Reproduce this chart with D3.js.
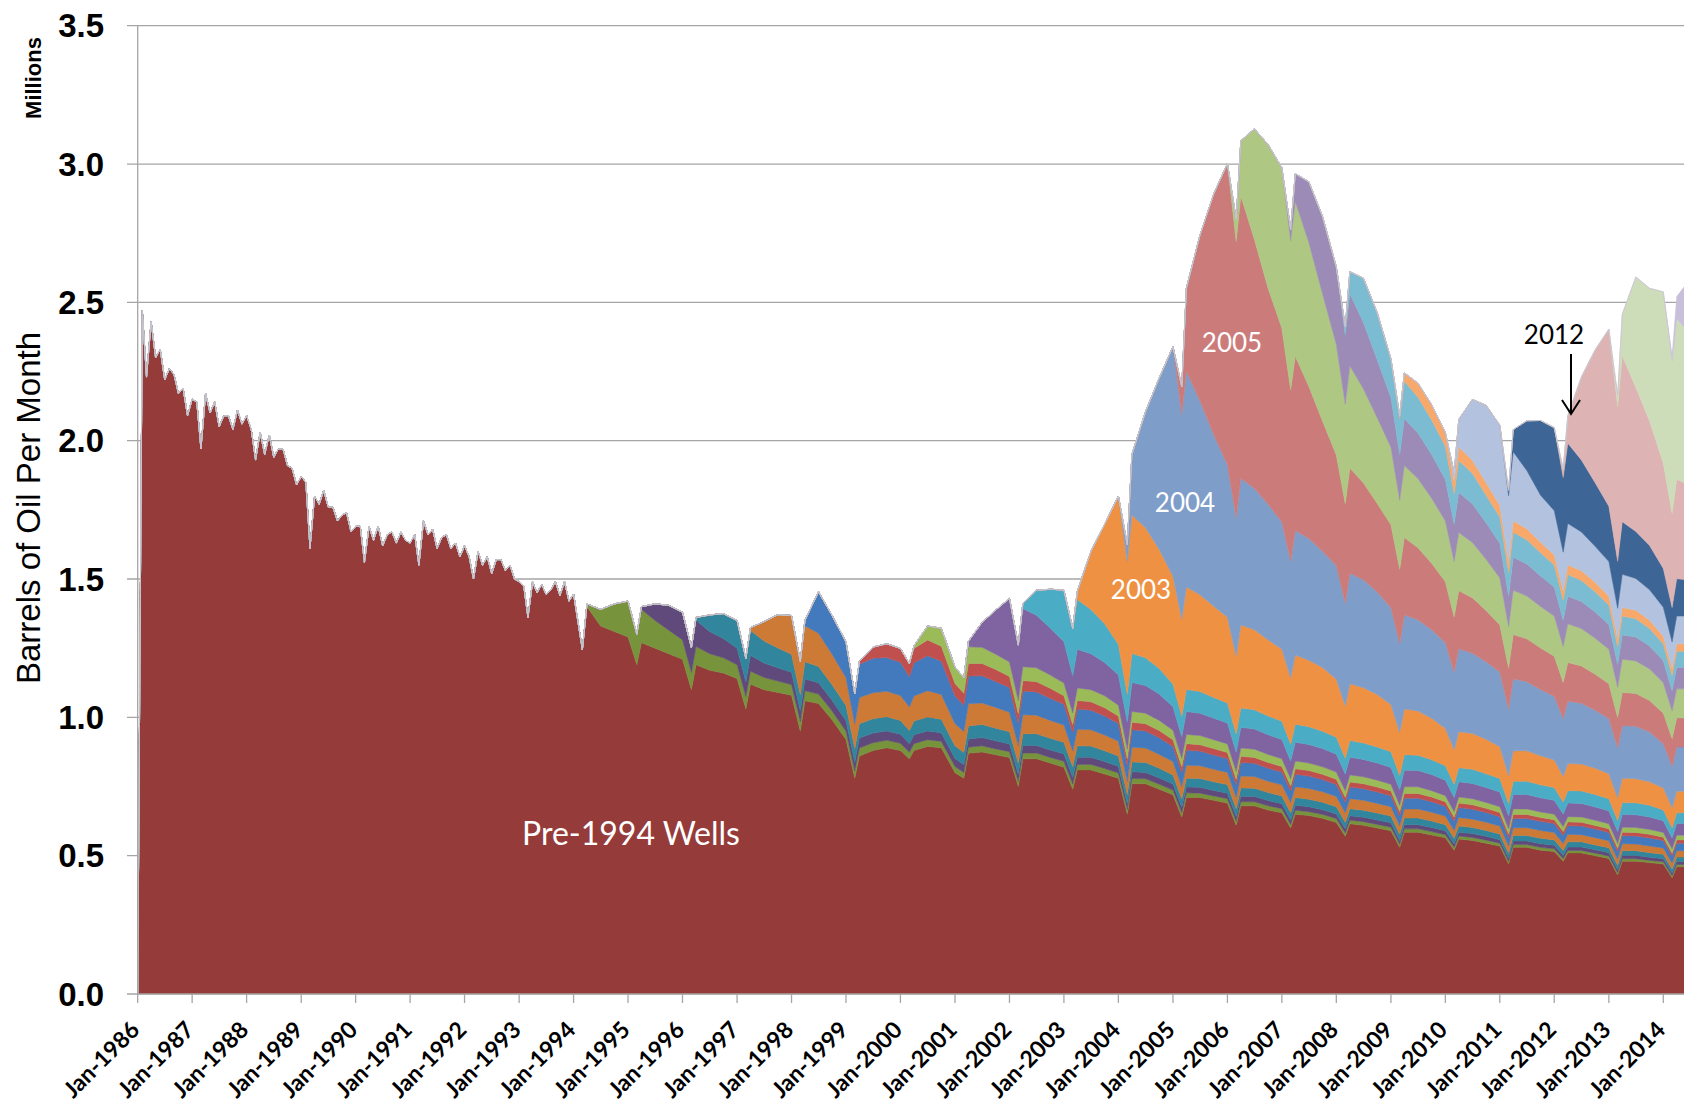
<!DOCTYPE html>
<html>
<head>
<meta charset="utf-8">
<script src="https://cdn.jsdelivr.net/npm/d3@7"></script>
<style>
html, body { margin: 0; padding: 0; background: #fff; }
svg { display: block; }
</style>
</head>
<body>
<svg id="chart" width="1684" height="1106"></svg>
<script>
// ---- data: monthly 1986-1993, then Jan/Mar/Apr/Jul/Oct samples ----
var monthlyYears = [1986, 1987, 1988, 1989, 1990, 1991, 1992, 1993];
var sampleMonths = [1, 3, 4, 7, 10];
var lastYearMonths = [1, 3, 4, 7];
var firstSampledYear = 1994, lastYear = 2014;

var yTicks = [0, 0.5, 1.0, 1.5, 2.0, 2.5, 3.0, 3.5];
var xTickLabels = ["Jan-1986","Jan-1987","Jan-1988","Jan-1989","Jan-1990","Jan-1991","Jan-1992",
  "Jan-1993","Jan-1994","Jan-1995","Jan-1996","Jan-1997","Jan-1998","Jan-1999","Jan-2000",
  "Jan-2001","Jan-2002","Jan-2003","Jan-2004","Jan-2005","Jan-2006","Jan-2007","Jan-2008",
  "Jan-2009","Jan-2010","Jan-2011","Jan-2012","Jan-2013","Jan-2014"];

var seriesNames = ["Pre-1994","1994","1995","1996","1997","1998","1999","2000","2001","2002",
  "2003","2004","2005","2006","2007","2008","2009","2010","2011","2012","2013","2014"];
var seriesColors = ["#953B39","#77933C","#604A7B","#31859C","#CC7A36","#4379BD","#C0504D","#9BBB59",
  "#8064A2","#4BACC6","#EE9142","#7F9DC9","#CB7B7A","#AEC783","#9C8AB7","#7BBCD2","#F7A86A",
  "#B3C3DF","#3D6596","#DDB3B3","#CEDDB9","#C8BFDB"];

// millions of barrels per month
var pre1994 = [
  0, 2.47, 2.23, 2.43, 2.30, 2.33, 2.22, 2.26, 2.24, 2.17, 2.19, 2.09,
  2.15, 2.14, 1.97, 2.17, 2.10, 2.14, 2.05, 2.09, 2.09, 2.04, 2.11, 2.06,
  2.09, 2.04, 1.93, 2.03, 1.95, 2.02, 1.94, 1.97, 1.97, 1.91, 1.90, 1.84,
  1.87, 1.85, 1.61, 1.80, 1.77, 1.82, 1.76, 1.76, 1.71, 1.73, 1.74, 1.67,
  1.69, 1.69, 1.56, 1.69, 1.64, 1.69, 1.62, 1.66, 1.67, 1.63, 1.67, 1.64,
  1.63, 1.66, 1.55, 1.71, 1.66, 1.68, 1.61, 1.65, 1.66, 1.61, 1.63, 1.58,
  1.62, 1.58, 1.50, 1.60, 1.55, 1.58, 1.52, 1.57, 1.57, 1.53, 1.55, 1.50,
  1.49, 1.475, 1.36, 1.49, 1.45, 1.48, 1.445, 1.46, 1.49, 1.44, 1.49, 1.42,
  1.445, 1.244, 1.40, 1.33, 1.31,
  1.29, 1.19, 1.27, 1.25, 1.23,
  1.21, 1.10, 1.19, 1.17, 1.16,
  1.14, 1.03, 1.12, 1.10, 1.09,
  1.08, 0.95, 1.06, 1.05, 0.99,
  0.92, 0.78, 0.86, 0.88, 0.89,
  0.88, 0.85, 0.88, 0.895, 0.89,
  0.80, 0.78, 0.87, 0.875, 0.865,
  0.855, 0.75, 0.85, 0.85, 0.835,
  0.82, 0.74, 0.81, 0.81, 0.795,
  0.78, 0.65, 0.76, 0.76, 0.74,
  0.72, 0.64, 0.71, 0.71, 0.70,
  0.69, 0.61, 0.68, 0.68, 0.665,
  0.655, 0.60, 0.65, 0.645, 0.635,
  0.62, 0.57, 0.615, 0.61, 0.60,
  0.59, 0.53, 0.585, 0.585, 0.575,
  0.565, 0.52, 0.56, 0.555, 0.545,
  0.535, 0.47, 0.53, 0.53, 0.52,
  0.515, 0.48, 0.51, 0.51, 0.50,
  0.49, 0.43, 0.48, 0.48, 0.475,
  0.47, 0.42, 0.46, 0.46
];

// each vintage list starts at January of its own year
var wells1994 = [
  0, 0, 0.01, 0.06, 0.10,  0.13, 0.11, 0.12, 0.10, 0.085,  0.07, 0.062, 0.066, 0.06, 0.055,
  0.05, 0.045, 0.047, 0.044, 0.041,  0.038, 0.034, 0.036, 0.034, 0.032,  0.03, 0.026, 0.029, 0.028, 0.027,
  0.026, 0.024, 0.025, 0.024, 0.023,  0.022, 0.021, 0.022, 0.022, 0.021,  0.021, 0.019, 0.021, 0.021, 0.02,
  0.021, 0.019, 0.02, 0.02, 0.02,  0.019, 0.017, 0.019, 0.018, 0.018,  0.017, 0.015, 0.017, 0.016, 0.016,
  0.016, 0.014, 0.015, 0.015, 0.015,  0.015, 0.013, 0.014, 0.014, 0.014,  0.014, 0.012, 0.013, 0.013, 0.013,
  0.013, 0.011, 0.012, 0.012, 0.012,  0.011, 0.010, 0.011, 0.011, 0.011,  0.010, 0.009, 0.010, 0.010, 0.010,
  0.010, 0.009, 0.009, 0.009, 0.009,  0.009, 0.008, 0.009, 0.009, 0.008,  0.008, 0.007, 0.008, 0.008
];
var wells1995 = [
  0, 0, 0.01, 0.06, 0.09,  0.10, 0.09, 0.095, 0.08, 0.07,  0.06, 0.053, 0.057, 0.052, 0.048,
  0.045, 0.04, 0.043, 0.041, 0.039,  0.038, 0.033, 0.036, 0.035, 0.034,  0.033, 0.031, 0.032, 0.032, 0.031,
  0.029, 0.028, 0.03, 0.03, 0.029,  0.028, 0.025, 0.027, 0.027, 0.027,  0.027, 0.024, 0.026, 0.026, 0.025,
  0.024, 0.021, 0.024, 0.023, 0.023,  0.022, 0.02, 0.021, 0.021, 0.02,  0.02, 0.018, 0.02, 0.019, 0.019,
  0.018, 0.016, 0.018, 0.018, 0.017,  0.017, 0.015, 0.016, 0.016, 0.016,  0.016, 0.014, 0.015, 0.015, 0.015,
  0.014, 0.013, 0.014, 0.014, 0.014,  0.013, 0.012, 0.013, 0.013, 0.013,  0.013, 0.012, 0.012, 0.012, 0.012,
  0.012, 0.011, 0.012, 0.012, 0.011,  0.011, 0.01, 0.011, 0.011
];
var wells1996 = [
  0, 0, 0.01, 0.06, 0.09,  0.10, 0.085, 0.09, 0.08, 0.072,  0.065, 0.058, 0.062, 0.059, 0.056,
  0.055, 0.048, 0.052, 0.052, 0.051,  0.05, 0.047, 0.05, 0.05, 0.049,  0.046, 0.044, 0.047, 0.047, 0.046,
  0.044, 0.04, 0.043, 0.043, 0.042,  0.042, 0.038, 0.041, 0.04, 0.039,  0.037, 0.033, 0.036, 0.036, 0.035,
  0.033, 0.03, 0.032, 0.032, 0.031,  0.031, 0.028, 0.03, 0.03, 0.029,  0.028, 0.026, 0.028, 0.027, 0.027,
  0.026, 0.024, 0.026, 0.025, 0.025,  0.024, 0.022, 0.024, 0.024, 0.023,  0.022, 0.02, 0.022, 0.022, 0.021,
  0.02, 0.018, 0.02, 0.02, 0.02,  0.019, 0.018, 0.019, 0.019, 0.018,  0.018, 0.016, 0.017, 0.017, 0.017,
  0.016, 0.015, 0.016, 0.016
];
var wells1997 = [
  0, 0, 0.01, 0.07, 0.12,  0.14, 0.12, 0.13, 0.12, 0.11,  0.10, 0.088, 0.095, 0.094, 0.092,
  0.09, 0.085, 0.09, 0.095, 0.09,  0.08, 0.076, 0.08, 0.078, 0.075,  0.07, 0.064, 0.068, 0.067, 0.065,
  0.062, 0.057, 0.06, 0.059, 0.057,  0.054, 0.048, 0.053, 0.052, 0.05,  0.048, 0.044, 0.047, 0.046, 0.045,
  0.044, 0.04, 0.043, 0.042, 0.041,  0.04, 0.037, 0.039, 0.039, 0.038,  0.037, 0.034, 0.036, 0.036, 0.035,
  0.034, 0.031, 0.033, 0.033, 0.032,  0.031, 0.028, 0.031, 0.03, 0.03,  0.029, 0.026, 0.028, 0.028, 0.028,
  0.027, 0.025, 0.027, 0.026, 0.026,  0.025, 0.023, 0.025, 0.024, 0.024,  0.023, 0.021, 0.023, 0.023
];
var wells1998 = [
  0, 0, 0.02, 0.15, 0.14,  0.13, 0.11, 0.12, 0.125, 0.122,  0.12, 0.11, 0.12, 0.127, 0.12,
  0.10, 0.095, 0.10, 0.098, 0.094,  0.09, 0.08, 0.086, 0.084, 0.08,  0.075, 0.068, 0.073, 0.071, 0.069,
  0.064, 0.057, 0.063, 0.062, 0.06,  0.055, 0.05, 0.054, 0.053, 0.052,  0.05, 0.046, 0.049, 0.048, 0.047,
  0.046, 0.042, 0.045, 0.045, 0.044,  0.043, 0.039, 0.042, 0.042, 0.041,  0.04, 0.036, 0.039, 0.039, 0.038,
  0.036, 0.033, 0.036, 0.036, 0.035,  0.034, 0.03, 0.033, 0.033, 0.033,  0.032, 0.03, 0.031, 0.031, 0.031,
  0.03, 0.027, 0.029, 0.029, 0.029,  0.027, 0.025, 0.027, 0.027
];
var wells1999 = [
  0, 0, 0.01, 0.04, 0.05,  0.05, 0.047, 0.052, 0.057, 0.054,  0.045, 0.043, 0.046, 0.045, 0.043,
  0.04, 0.036, 0.038, 0.037, 0.036,  0.031, 0.028, 0.031, 0.03, 0.03,  0.027, 0.024, 0.027, 0.026, 0.026,
  0.024, 0.022, 0.024, 0.023, 0.023,  0.022, 0.02, 0.022, 0.021, 0.021,  0.02, 0.018, 0.02, 0.02, 0.019,
  0.019, 0.017, 0.018, 0.018, 0.018,  0.017, 0.016, 0.017, 0.017, 0.017,  0.016, 0.015, 0.016, 0.016, 0.015,
  0.015, 0.013, 0.015, 0.015, 0.014,  0.014, 0.013, 0.014, 0.014, 0.013,  0.013, 0.012, 0.013, 0.013, 0.013,
  0.012, 0.011, 0.012, 0.012
];
var wells2000 = [
  0, 0, 0.01, 0.05, 0.065,  0.06, 0.055, 0.06, 0.058, 0.055,  0.052, 0.047, 0.05, 0.05, 0.048,
  0.046, 0.042, 0.045, 0.044, 0.043,  0.039, 0.035, 0.039, 0.038, 0.037,  0.034, 0.031, 0.033, 0.033, 0.032,
  0.031, 0.028, 0.03, 0.03, 0.029,  0.028, 0.026, 0.028, 0.027, 0.027,  0.026, 0.024, 0.026, 0.025, 0.025,
  0.024, 0.022, 0.024, 0.024, 0.023,  0.022, 0.02, 0.022, 0.022, 0.021,  0.021, 0.019, 0.02, 0.02, 0.02,
  0.02, 0.018, 0.019, 0.019, 0.019,  0.018, 0.017, 0.018, 0.018, 0.018,  0.017, 0.016, 0.017, 0.017
];
var wells2001 = [
  0, 0, 0.02, 0.09, 0.16,  0.23, 0.20, 0.21, 0.19, 0.17,  0.15, 0.135, 0.14, 0.13, 0.12,
  0.11, 0.098, 0.105, 0.10, 0.095,  0.085, 0.078, 0.083, 0.081, 0.078,  0.076, 0.07, 0.075, 0.073, 0.071,
  0.07, 0.064, 0.068, 0.067, 0.066,  0.065, 0.06, 0.064, 0.063, 0.062,  0.061, 0.056, 0.06, 0.059, 0.058,
  0.056, 0.051, 0.055, 0.055, 0.054,  0.053, 0.047, 0.052, 0.052, 0.051,  0.05, 0.046, 0.049, 0.049, 0.048,
  0.047, 0.043, 0.046, 0.046, 0.045,  0.042, 0.039, 0.042, 0.042
];
var wells2002 = [
  0, 0, 0.02, 0.09, 0.14,  0.186, 0.17, 0.18, 0.16, 0.14,  0.11, 0.10, 0.105, 0.10, 0.093,
  0.082, 0.075, 0.08, 0.078, 0.075,  0.072, 0.066, 0.07, 0.069, 0.068,  0.066, 0.061, 0.065, 0.064, 0.063,
  0.061, 0.057, 0.06, 0.059, 0.058,  0.057, 0.052, 0.056, 0.055, 0.054,  0.052, 0.048, 0.051, 0.051, 0.05,
  0.049, 0.044, 0.048, 0.048, 0.047,  0.046, 0.043, 0.045, 0.045, 0.045,  0.044, 0.04, 0.043, 0.043, 0.042,
  0.039, 0.036, 0.039, 0.039
];
var wells2003 = [
  0, 0, 0.03, 0.21, 0.36,  0.536, 0.48, 0.50, 0.47, 0.43,  0.39, 0.35, 0.37, 0.35, 0.33,
  0.31, 0.28, 0.30, 0.29, 0.275,  0.26, 0.24, 0.25, 0.24, 0.23,  0.21, 0.19, 0.205, 0.20, 0.19,
  0.17, 0.155, 0.165, 0.16, 0.15,  0.135, 0.125, 0.13, 0.13, 0.125,  0.115, 0.10, 0.11, 0.11, 0.105,
  0.10, 0.092, 0.098, 0.097, 0.095,  0.09, 0.082, 0.088, 0.087, 0.085,  0.08, 0.073, 0.078, 0.078
];
var wells2004 = [
  0, 0.06, 0.22, 0.42, 0.62,  0.83, 0.74, 0.78, 0.70, 0.62,  0.55, 0.50, 0.53, 0.51, 0.49,
  0.46, 0.42, 0.45, 0.44, 0.42,  0.41, 0.37, 0.40, 0.39, 0.37,  0.35, 0.32, 0.34, 0.33, 0.32,
  0.31, 0.28, 0.30, 0.29, 0.28,  0.27, 0.24, 0.26, 0.25, 0.24,  0.23, 0.21, 0.225, 0.22, 0.21,
  0.20, 0.18, 0.19, 0.19, 0.18,  0.16, 0.15, 0.16, 0.16
];
var wells2005 = [
  0, 0.10, 0.30, 0.60, 0.87,  1.09, 1.00, 1.02, 0.90, 0.78,  0.70, 0.62, 0.63, 0.55, 0.47,
  0.40, 0.36, 0.38, 0.35, 0.32,  0.30, 0.27, 0.28, 0.26, 0.24,  0.22, 0.20, 0.21, 0.20, 0.185,
  0.17, 0.15, 0.16, 0.155, 0.15,  0.145, 0.13, 0.14, 0.135, 0.13,  0.125, 0.11, 0.12, 0.118, 0.114,
  0.11, 0.10, 0.105, 0.105
];
var wells2006 = [
  0, 0.08, 0.20, 0.40, 0.52,  0.58, 0.54, 0.56, 0.52, 0.46,  0.40, 0.36, 0.37, 0.34, 0.31,
  0.28, 0.25, 0.26, 0.25, 0.235,  0.22, 0.20, 0.21, 0.20, 0.185,  0.17, 0.15, 0.16, 0.155, 0.15,
  0.145, 0.13, 0.14, 0.135, 0.13,  0.125, 0.11, 0.12, 0.118, 0.114,  0.11, 0.10, 0.105, 0.105
];
var wells2007 = [
  0, 0.04, 0.10, 0.22, 0.28,  0.28, 0.25, 0.26, 0.24, 0.21,  0.18, 0.165, 0.17, 0.165, 0.158,
  0.15, 0.135, 0.145, 0.14, 0.132,  0.125, 0.11, 0.12, 0.115, 0.11,  0.105, 0.095, 0.10, 0.098, 0.095,
  0.09, 0.082, 0.088, 0.086, 0.083,  0.08, 0.073, 0.078, 0.078
];
var wells2008 = [
  0, 0.03, 0.08, 0.16, 0.17,  0.14, 0.13, 0.135, 0.13, 0.125,  0.12, 0.11, 0.115, 0.11, 0.10,
  0.095, 0.085, 0.09, 0.088, 0.084,  0.08, 0.073, 0.078, 0.076, 0.073,  0.07, 0.064, 0.068, 0.066, 0.063,
  0.06, 0.055, 0.058, 0.058
];
var wells2009 = [
  0, 0.01, 0.03, 0.05, 0.055,  0.05, 0.046, 0.049, 0.047, 0.045,  0.042, 0.038, 0.041, 0.04, 0.038,
  0.036, 0.033, 0.035, 0.035, 0.034,  0.032, 0.029, 0.031, 0.031, 0.03,  0.028, 0.026, 0.027, 0.027
];
var wells2010 = [
  0, 0.03, 0.10, 0.22, 0.28,  0.29, 0.24, 0.25, 0.21, 0.17,  0.16, 0.14, 0.15, 0.14, 0.13,
  0.125, 0.11, 0.12, 0.115, 0.11,  0.105, 0.095, 0.10, 0.10
];
var wells2011 = [
  0, 0.02, 0.08, 0.18, 0.27,  0.30, 0.27, 0.29, 0.26, 0.23,  0.20, 0.17, 0.19, 0.17, 0.16,
  0.14, 0.125, 0.135, 0.13
];
var wells2012 = [
  0, 0.03, 0.10, 0.30, 0.48,  0.64, 0.56, 0.60, 0.52, 0.45,  0.38, 0.34, 0.36, 0.34
];
var wells2013 = [
  0, 0.04, 0.15, 0.40, 0.48,  0.62, 0.55, 0.58, 0.55
];
var wells2014 = [
  0, 0.02, 0.08, 0.20
];

var seriesValues = [pre1994, wells1994, wells1995, wells1996, wells1997, wells1998, wells1999,
  wells2000, wells2001, wells2002, wells2003, wells2004, wells2005, wells2006, wells2007,
  wells2008, wells2009, wells2010, wells2011, wells2012, wells2013, wells2014];

// ---- build the date grid and the table for d3.stack ----
var dates = [];
monthlyYears.forEach(function(yr) {
  for (var m = 1; m <= 12; m++) dates.push(new Date(yr, m - 1, 1));
});
for (var yr = firstSampledYear; yr <= lastYear; yr++) {
  (yr === lastYear ? lastYearMonths : sampleMonths).forEach(function(m) {
    dates.push(new Date(yr, m - 1, 1));
  });
}

function startIndex(name) {
  if (name === "Pre-1994") return 0;
  return monthlyYears.length * 12 + (+name - firstSampledYear) * sampleMonths.length;
}

var table = dates.map(function(d, i) {
  var row = { date: d };
  seriesNames.forEach(function(name, k) {
    var s = startIndex(name);
    var v = i >= s ? seriesValues[k][i - s] : 0;
    row[name] = v === undefined ? 0 : v;
  });
  return row;
});

// ---- drawing ----
var svg = d3.select("#chart");
var width = 1684, height = 1106;

var x = d3.scaleTime()
  .domain([new Date(1986, 0, 1), new Date(2014, 0, 1)])
  .range([137.7, 1663.3]);
var y = d3.scaleLinear().domain([0, 3.5]).range([994, 25.7]);

svg.append("rect").attr("width", width).attr("height", height).attr("fill", "#fff");

// gridlines (behind the areas)
svg.append("g").selectAll("line")
  .data(yTicks.filter(function(t) { return t > 0; }))
  .enter().append("line")
  .attr("x1", 127).attr("x2", width)
  .attr("y1", function(d) { return y(d); })
  .attr("y2", function(d) { return y(d); })
  .attr("stroke", "#a5a5a5").attr("stroke-width", 1.3);

var stack = d3.stack().keys(seriesNames);
var layers = stack(table);

var area = d3.area()
  .x(function(d) { return x(d.data.date); })
  .y0(function(d) { return y(d[0]); })
  .y1(function(d) { return y(d[1]); });

svg.append("g").selectAll("path")
  .data(layers)
  .enter().append("path")
  .attr("d", area)
  .attr("fill", function(d, i) { return seriesColors[i]; })
  .attr("stroke", function(d, i) { return seriesColors[i]; })
  .attr("stroke-width", 0.5);

// axes
svg.append("line")
  .attr("x1", 137.7).attr("x2", 137.7).attr("y1", 25.7).attr("y2", 994)
  .attr("stroke", "#a5a5a5").attr("stroke-width", 1.3);
svg.append("line")
  .attr("x1", 127).attr("x2", width).attr("y1", 994).attr("y2", 994)
  .attr("stroke", "#a5a5a5").attr("stroke-width", 1.3);

var tickYears = xTickLabels.map(function(l) { return new Date(+l.split("-")[1], 0, 1); });

svg.append("g").selectAll("line")
  .data(tickYears)
  .enter().append("line")
  .attr("x1", function(d) { return x(d); })
  .attr("x2", function(d) { return x(d); })
  .attr("y1", 994).attr("y2", 1003)
  .attr("stroke", "#a5a5a5").attr("stroke-width", 1.3);

svg.append("g").selectAll("text")
  .data(xTickLabels)
  .enter().append("text")
  .attr("transform", function(d, i) {
    return "translate(" + (x(tickYears[i]) - 3) + ",1025) rotate(-45)";
  })
  .attr("text-anchor", "end")
  .attr("dominant-baseline", "central")
  .style("font-family", "Lato, 'Open Sans', sans-serif")
  .style("font-weight", "bold")
  .style("font-size", "23px")
  .attr("fill", "#000")
  .text(function(d) { return d; });

svg.append("g").selectAll("text")
  .data(yTicks)
  .enter().append("text")
  .attr("x", 104)
  .attr("y", function(d) { return y(d); })
  .attr("text-anchor", "end")
  .attr("dominant-baseline", "central")
  .style("font-family", "'Liberation Sans', Arial, sans-serif")
  .style("font-weight", "bold")
  .style("font-size", "33px")
  .attr("fill", "#000")
  .text(d3.format(".1f"));

svg.append("text")
  .attr("transform", "translate(33,78) rotate(-90)")
  .attr("text-anchor", "middle")
  .attr("dominant-baseline", "central")
  .style("font-family", "'Liberation Sans', Arial, sans-serif")
  .style("font-weight", "bold")
  .style("font-size", "22px")
  .text("Millions");

svg.append("text")
  .attr("transform", "translate(28,508) rotate(-90)")
  .attr("text-anchor", "middle")
  .attr("dominant-baseline", "central")
  .style("font-family", "'Liberation Sans', Arial, sans-serif")
  .style("font-size", "33px")
  .text("Barrels of Oil Per Month");

// in-chart labels
var labelFont = "Lato, 'Open Sans', sans-serif";
svg.append("text").attr("x", 631).attr("y", 832)
  .attr("text-anchor", "middle").attr("dominant-baseline", "central")
  .style("font-family", labelFont).style("font-size", "32px").attr("fill", "#fff")
  .text("Pre-1994 Wells");
[["2003", 1141, 589], ["2004", 1185, 502], ["2005", 1232, 342]].forEach(function(l) {
  svg.append("text").attr("x", l[1]).attr("y", l[2])
    .attr("text-anchor", "middle").attr("dominant-baseline", "central")
    .style("font-family", labelFont).style("font-size", "26px").attr("fill", "#fff")
    .text(l[0]);
});
svg.append("text").attr("x", 1554).attr("y", 334)
  .attr("text-anchor", "middle").attr("dominant-baseline", "central")
  .style("font-family", labelFont).style("font-size", "26px").attr("fill", "#000")
  .text("2012");
svg.append("line").attr("x1", 1571).attr("x2", 1571).attr("y1", 354).attr("y2", 414)
  .attr("stroke", "#000").attr("stroke-width", 2);
svg.append("polyline").attr("points", "1562,400 1571,414 1580,400")
  .attr("fill", "none").attr("stroke", "#000").attr("stroke-width", 2);
</script>
</body>
</html>
